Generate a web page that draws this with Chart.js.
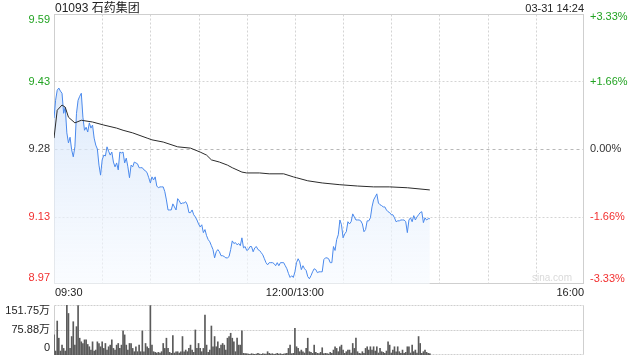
<!DOCTYPE html>
<html>
<head>
<meta charset="utf-8">
<script src="https://cdn.jsdelivr.net/npm/chart.js@4.4.1/dist/chart.umd.min.js"></script>
<style>
  body { margin: 0; width: 640px; height: 360px; background: #fff; position: relative; overflow: hidden;
         font-family: "Liberation Sans", Arial, "Noto Sans CJK SC", sans-serif; }
  #title { position: absolute; left: 55px; top: 0px; font-size: 12px; color: #222; line-height: 16px; }
  #stamp { position: absolute; right: 56px; top: 1px; font-size: 11px; color: #222; line-height: 14px; }
  #mark  { position: absolute; left: 532px; top: 272px; font-size: 10px; color: #dadada; }
  #priceChart { position: absolute; left: 0; top: 0; }
  #volChart { position: absolute; left: 0; top: 296px; }
</style>
</head>
<body>
<canvas id="priceChart" width="640" height="300"></canvas>
<canvas id="volChart" width="640" height="64"></canvas>
<div id="title"></div>
<div id="stamp"></div>
<div id="mark">sina.com</div>
<script>
// ================= DATA =================
const stockTitle = "01093 石药集团";
const stampText = "03-31 14:24";
const prevClose = 9.28;

// minutes since 09:30 (12:00 and 13:00 share minute 150)
const timeTicks = [0, 30, 60, 90, 120, 150, 180, 210, 240, 270, 300, 330];
const timeLabels = { 0: "09:30", 150: "12:00/13:00", 330: "16:00" };

const priceTicks = [8.97, 9.125, 9.28, 9.435, 9.59];
const priceLabels = ["8.97", "9.13", "9.28", "9.43", "9.59"];
const pctLabels = ["-3.33%", "-1.66%", "0.00%", "+1.66%", "+3.33%"];

// one price per minute, 09:30 -> 14:24
const prices = [
  9.351, 9.392, 9.415, 9.420, 9.413, 9.408, 9.362, 9.376, 9.317, 9.294,
  9.307, 9.278, 9.262, 9.285, 9.362, 9.392, 9.401, 9.408, 9.353, 9.323,
  9.330, 9.319, 9.340, 9.328, 9.335, 9.305, 9.289, 9.280, 9.243, 9.220,
  9.255, 9.266, 9.264, 9.285, 9.275, 9.266, 9.273, 9.250, 9.239, 9.248,
  9.232, 9.273, 9.271, 9.273, 9.248, 9.259, 9.239, 9.214, 9.243, 9.239,
  9.250, 9.248, 9.246, 9.237, 9.237, 9.237, 9.232, 9.230, 9.225, 9.214,
  9.202, 9.216, 9.209, 9.216, 9.195, 9.191, 9.193, 9.193, 9.193, 9.182,
  9.163, 9.140, 9.140, 9.140, 9.154, 9.147, 9.140, 9.166, 9.161, 9.154,
  9.156, 9.156, 9.159, 9.152, 9.134, 9.134, 9.140, 9.129, 9.124, 9.117,
  9.108, 9.101, 9.106, 9.088, 9.095, 9.081, 9.072, 9.067, 9.058, 9.049,
  9.030, 9.044, 9.049, 9.044, 9.035, 9.035, 9.033, 9.030, 9.030, 9.033,
  9.049, 9.069, 9.063, 9.065, 9.060, 9.063, 9.058, 9.076, 9.053, 9.056,
  9.047, 9.049, 9.056, 9.056, 9.044, 9.053, 9.056, 9.049, 9.047, 9.042,
  9.037, 9.028, 9.019, 9.014, 9.019, 9.019, 9.019, 9.017, 9.012, 9.019,
  9.012, 9.019, 9.019, 9.019, 9.012, 9.005, 8.994, 8.985, 8.989, 8.985,
  8.998, 9.019, 9.028, 9.021, 9.003, 9.012, 9.005, 9.001, 8.987, 8.982,
  8.989, 8.998, 9.005, 9.003, 8.996, 8.998, 8.998, 8.998, 9.026, 9.030,
  9.030, 9.028, 9.019, 9.019, 9.056, 9.047, 9.072, 9.083, 9.117, 9.106,
  9.076, 9.085, 9.090, 9.113, 9.108, 9.113, 9.131, 9.124, 9.117, 9.117,
  9.117, 9.115, 9.108, 9.090, 9.095, 9.115, 9.115, 9.122, 9.147, 9.163,
  9.170, 9.177, 9.156, 9.152, 9.150, 9.147, 9.147, 9.140, 9.136, 9.134,
  9.129, 9.129, 9.122, 9.113, 9.115, 9.115, 9.117, 9.117, 9.117, 9.113,
  9.088, 9.117, 9.122, 9.113, 9.127, 9.117, 9.124, 9.129, 9.134, 9.136,
  9.111, 9.122, 9.117, 9.120, 9.120
];

// average price line
const avgMinutes = [0, 2, 5, 7, 9, 13, 17, 24, 31, 39, 43, 49, 58, 61, 68, 77, 85, 91, 95, 98,
  103, 108, 111, 117, 120, 128, 134, 143, 149, 151, 158, 167, 178, 189, 199, 209, 220, 234];
const avgPrices = [9.305, 9.369, 9.381, 9.376, 9.353, 9.340, 9.346, 9.342, 9.335, 9.328,
  9.323, 9.317, 9.305, 9.301, 9.296, 9.285, 9.282, 9.273, 9.266, 9.255,
  9.250, 9.243, 9.237, 9.227, 9.225, 9.225, 9.223, 9.223, 9.216, 9.214,
  9.207, 9.202, 9.198, 9.195, 9.193, 9.193, 9.191, 9.186];

// volume per minute, in 万
const volumes = [
  61, 12, 103, 51, 12, 30, 20, 12, 151.75, 126,
  20, 56, 101, 30, 86, 150, 51, 40, 35, 46,
  46, 32, 25, 15, 40, 12, 15, 40, 35, 25,
  40, 20, 35, 15, 25, 30, 46, 20, 15, 30,
  35, 20, 30, 73, 61, 30, 15, 35, 35, 20,
  10, 25, 10, 30, 10, 73, 10, 35, 25, 20,
  150, 30, 10, 8, 6, 8, 6, 10, 35, 20,
  51, 20, 8, 5, 59, 6, 10, 10, 6, 10,
  56, 10, 15, 10, 20, 30, 15, 8, 76, 20,
  35, 20, 10, 20, 121, 30, 8, 15, 88, 25,
  56, 25, 40, 20, 30, 35, 30, 15, 51, 56,
  66, 51, 40, 10, 51, 30, 30, 73, 5, 4,
  4, 3, 2, 4, 3, 2, 3, 5, 3, 2,
  4, 3, 3, 10, 5, 3, 4, 2, 3, 5,
  3, 4, 2, 3, 4, 5, 20, 30, 4, 5,
  81, 25, 20, 10, 15, 10, 6, 20, 51, 10,
  8, 5, 30, 8, 5, 4, 8, 22, 4, 5,
  4, 3, 8, 5, 15, 25, 20, 10, 25, 30,
  15, 5, 10, 15, 15, 6, 35, 20, 51, 10,
  5, 4, 10, 5, 20, 25, 15, 25, 15, 25,
  12, 25, 6, 20, 10, 8, 5, 12, 40, 30,
  6, 15, 25, 10, 25, 10, 5, 15, 5, 8,
  25, 25, 6, 30, 10, 15, 6, 56, 35, 5,
  10, 15, 8, 5, 4
];
const volTicks = [0, 75.88, 151.75];
const volLabels = ["0", "75.88万", "151.75万"];

// ================= STYLE =================
const GREEN = "#22a322";
const RED = "#f23030";
const DARK = "#333";
const LABEL_FONT = '11px "Liberation Sans", Arial, "Noto Sans CJK SC", sans-serif';

function tickColor(i, mid) {
  return i > mid ? GREEN : i < mid ? RED : DARK;
}

function line(ctx, x1, y1, x2, y2, color, dash) {
  ctx.strokeStyle = color;
  ctx.setLineDash(dash || []);
  ctx.beginPath();
  ctx.moveTo(x1, y1);
  ctx.lineTo(x2, y2);
  ctx.stroke();
}

document.getElementById("title").textContent = stockTitle;
document.getElementById("stamp").textContent = stampText;

// ================= PRICE PANEL =================
const pricePanel = {
  id: "pricePanel",
  beforeDatasetsDraw(chart) {
    const { ctx, chartArea: a, scales } = chart;
    const L = Math.round(a.left) + 0.5, R = Math.round(a.right) - 0.5;
    const T = Math.round(a.top) + 0.5, B = Math.round(a.bottom) - 0.5;
    ctx.save();
    ctx.lineWidth = 1;
    timeTicks.slice(1, -1).forEach(t => {
      const x = Math.round(scales.x.getPixelForValue(t)) + 0.5;
      line(ctx, x, T, x, B, "#d4d4d4", [2, 2]);
    });
    priceTicks.slice(1, -1).forEach(v => {
      const y = Math.round(scales.y.getPixelForValue(v)) + 0.5;
      if (v === prevClose) line(ctx, L, y, R, y, "#b8b8b8", [3, 3]);
      else line(ctx, L, y, R, y, "#d4d4d4", [2, 2]);
    });
    ctx.strokeStyle = "#cfcfcf";
    ctx.setLineDash([]);
    ctx.strokeRect(L, T, R - L, B - T);
    ctx.restore();
  },
  afterDraw(chart) {
    const { ctx, chartArea: a, scales } = chart;
    const last = priceTicks.length - 1;
    ctx.save();
    ctx.font = LABEL_FONT;
    ctx.textBaseline = "middle";
    priceTicks.forEach((v, i) => {
      const y = scales.y.getPixelForValue(v);
      const c = tickColor(i, 2);
      ctx.fillStyle = c;
      ctx.textAlign = "right";
      ctx.fillText(priceLabels[i], a.left - 4, y + (i === 0 ? -6 : i === last ? 6 : 0));
      ctx.textAlign = "left";
      ctx.fillText(pctLabels[i], a.right + 6, y + (i === 0 ? -5 : i === last ? 3 : 0));
    });
    ctx.fillStyle = "#222";
    Object.keys(timeLabels).forEach(k => {
      const t = Number(k);
      const x = scales.x.getPixelForValue(t);
      ctx.textAlign = t === 0 ? "left" : t === 330 ? "right" : "center";
      ctx.fillText(timeLabels[k], x + (t === 0 ? 1 : 0), a.bottom + 9);
    });
    ctx.restore();
  }
};

new Chart(document.getElementById("priceChart"), {
  type: "line",
  data: {
    datasets: [
      {
        label: "均价",
        data: avgMinutes.map((m, i) => ({ x: m, y: avgPrices[i] })),
        borderColor: "#2b2b2b",
        borderWidth: 1,
        pointRadius: 0,
        fill: false,
        order: 1
      },
      {
        label: "价格",
        data: prices.map((p, i) => ({ x: i, y: p })),
        borderColor: "#4a89ec",
        borderWidth: 1,
        pointRadius: 0,
        tension: 0,
        fill: "start",
        backgroundColor: ctx => {
          const area = ctx.chart.chartArea;
          if (!area) return "rgba(220,232,250,0.6)";
          const g = ctx.chart.ctx.createLinearGradient(0, area.top, 0, area.bottom);
          g.addColorStop(0, "rgba(200,220,248,0.85)");
          g.addColorStop(1, "rgba(246,250,255,0.6)");
          return g;
        },
        order: 2
      }
    ]
  },
  options: {
    responsive: false,
    animation: false,
    layout: { padding: { left: 54, right: 56, top: 14, bottom: 16 } },
    plugins: { legend: { display: false }, tooltip: { enabled: false } },
    scales: {
      x: { type: "linear", min: 0, max: 330, display: false },
      y: { type: "linear", min: priceTicks[0], max: priceTicks[priceTicks.length - 1], display: false }
    }
  },
  plugins: [pricePanel]
});

// ================= VOLUME PANEL =================
const volPanel = {
  id: "volPanel",
  beforeDatasetsDraw(chart) {
    const { ctx, chartArea: a, scales } = chart;
    const L = Math.round(a.left) + 0.5, R = Math.round(a.right) - 0.5;
    const T = Math.round(a.top) + 0.5, B = Math.round(a.bottom) - 0.5;
    ctx.save();
    ctx.lineWidth = 1;
    volTicks.forEach(v => {
      const y = Math.min(B, Math.max(T, Math.round(scales.y.getPixelForValue(v)) + 0.5));
      line(ctx, L, y, R, y, "#cfcfcf", [2, 1]);
    });
    line(ctx, L, T, L, B, "#cfcfcf");
    line(ctx, R, T, R, B, "#cfcfcf");
    ctx.restore();
  },
  afterDraw(chart) {
    const { ctx, chartArea: a, scales } = chart;
    const last = volTicks.length - 1;
    ctx.save();
    ctx.font = LABEL_FONT;
    ctx.textBaseline = "middle";
    ctx.textAlign = "right";
    ctx.fillStyle = "#222";
    volTicks.forEach((v, i) => {
      const y = scales.y.getPixelForValue(v);
      ctx.fillText(volLabels[i], a.left - 4, y + (i === 0 ? -7 : i === last ? 6 : 0));
    });
    ctx.restore();
  }
};

new Chart(document.getElementById("volChart"), {
  type: "bar",
  data: {
    datasets: [{
      label: "成交量",
      data: volumes.map((v, i) => ({ x: i, y: v })),
      backgroundColor: "#5a5a5a",
      barThickness: 1,
      borderWidth: 0
    }]
  },
  options: {
    responsive: false,
    animation: false,
    layout: { padding: { left: 54, right: 56, top: 9, bottom: 5 } },
    plugins: { legend: { display: false }, tooltip: { enabled: false } },
    scales: {
      x: { type: "linear", min: 0, max: 330, offset: false, display: false },
      y: { type: "linear", min: 0, max: volTicks[volTicks.length - 1], display: false }
    }
  },
  plugins: [volPanel]
});
</script>
</body>
</html>
